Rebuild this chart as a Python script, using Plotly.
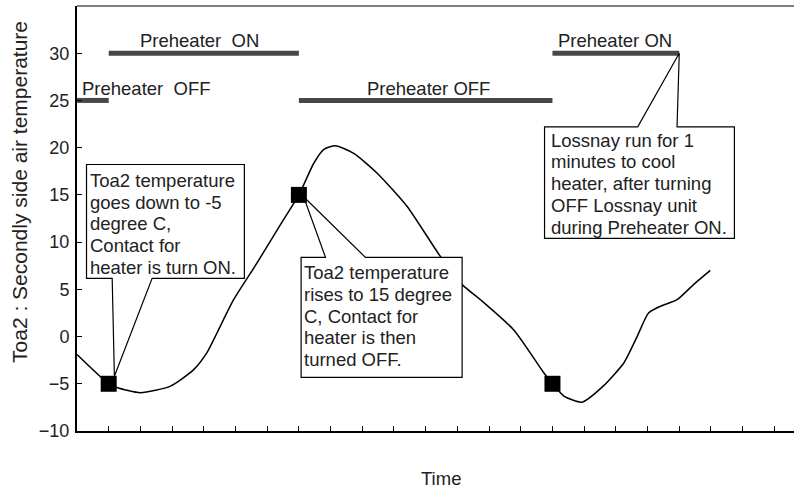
import plotly.graph_objects as go

# Secondary-side air temperature (Toa2) over time
time = [0, 1, 1.26, 2.0, 2.95, 3.68, 4.1, 4.42, 4.94, 5.68, 6.52, 7.0, 7.47, 7.78,
        8.15, 8.73, 9.47, 10.41, 11.46, 12.15, 12.73, 13.78, 14.72, 15.0, 15.36,
        15.93, 16.6, 17.25, 17.67, 18.03, 18.4, 18.93, 19.45, 19.98]
toa2 = [-1.9, -5.0, -5.4, -5.95, -5.25, -3.5, -1.7, 0.4, 3.9, 7.8, 12.4, 15.0, 18.35,
        19.8, 20.2, 19.4, 17.3, 13.8, 8.5, 5.5, 3.9, 0.7, -3.8, -5.0, -6.3, -6.95,
        -5.25, -2.8, 0.0, 2.5, 3.2, 3.9, 5.5, 7.0]

# Switching points of the heater contact
switch_time = [1, 7, 15]
switch_temp = [-5, 15, -5]

# Preheater state bars (level 30 = ON, level 25 = OFF)
state_start = [0, 1, 7, 15]
state_end = [1, 7, 15, 19]
state_level = [25, 30, 25, 30]
state_label = ["Preheater  OFF", "Preheater  ON", "Preheater OFF", "Preheater ON"]

y_ticks = [-10, -5, 0, 5, 10, 15, 20, 25, 30]
x_ticks = list(range(1, 23))

note_on = ["Toa2 temperature", "goes down to -5", "degree C,", "Contact for",
           "heater is turn ON."]
note_off = ["Toa2 temperature", "rises to 15 degree", "C, Contact for",
            "heater is then", "turned OFF."]
note_cool = ["Lossnay run for 1", "minutes to cool", "heater, after turning",
             "OFF Lossnay unit", "during Preheater ON."]

FONT = "Liberation Sans, Arial, Helvetica, sans-serif"
TXT = "#222222"
TEXT_SIZE = 18.5
LINE_STEP = 2.30  # text line spacing in temperature units

fig = go.Figure()

# state bars
bx, by = [], []
for s, e, lv in zip(state_start, state_end, state_level):
    bx += [s, e, None]
    by += [lv, lv, None]
fig.add_trace(go.Scatter(x=bx, y=by, mode="lines",
                         line=dict(color="#474747", width=5), hoverinfo="skip"))

# temperature curve
fig.add_trace(go.Scatter(x=time, y=toa2, mode="lines",
                         line=dict(color="black", width=1.5, shape="spline", smoothing=0.6),
                         hoverinfo="skip"))

# contact switching markers
fig.add_trace(go.Scatter(x=switch_time, y=switch_temp, mode="markers",
                         marker=dict(symbol="square", size=16, color="black",
                                     line=dict(width=0)),
                         hoverinfo="skip"))

# state labels above the bars
label_pos = [(2.18, 26.3), (3.86, 31.4), (11.1, 26.3), (16.98, 31.4)]
for (lx, ly), txt in zip(label_pos, state_label):
    fig.add_annotation(x=lx, y=ly, xref="x", yref="y", text=txt, showarrow=False,
                       xanchor="center", yanchor="middle",
                       font=dict(family=FONT, size=TEXT_SIZE, color=TXT))


def callout(left, right, top, bottom, base1, base2, apex, side, lines, tx, ty):
    """White box with a wedge pointer from its top or bottom edge to apex."""
    fig.add_shape(type="rect", xref="x", yref="y", x0=left, x1=right, y0=bottom, y1=top,
                  fillcolor="white", line=dict(width=0), layer="above")
    ax, ay = apex
    if side == "bottom":
        path = (f"M {base1},{bottom} L {left},{bottom} L {left},{top} L {right},{top} "
                f"L {right},{bottom} L {base2},{bottom} L {ax},{ay} Z")
    else:
        path = (f"M {base1},{top} L {left},{top} L {left},{bottom} L {right},{bottom} "
                f"L {right},{top} L {base2},{top} L {ax},{ay} Z")
    fig.add_shape(type="path", xref="x", yref="y", path=path,
                  line=dict(color="black", width=1.2), fillcolor="rgba(0,0,0,0)",
                  layer="above")
    for i, line in enumerate(lines):
        fig.add_annotation(x=tx, y=ty - i * LINE_STEP, xref="x", yref="y", text=line,
                           showarrow=False, xanchor="left", yanchor="middle",
                           font=dict(family=FONT, size=TEXT_SIZE, color=TXT))


callout(0.30, 5.28, 18.22, 6.16, 1.11, 2.37,
        (switch_time[0] + 0.18, switch_temp[0] + 0.8), "bottom", note_on, 0.35, 16.53)

callout(7.07, 12.15, 8.38, -4.32, 7.84, 9.10,
        (switch_time[1] + 0.15, switch_temp[1] - 0.2), "top", note_off, 7.11, 6.75)

callout(14.75, 20.74, 22.2, 10.39, 17.69, 18.93,
        (state_end[3], state_level[3]), "top", note_cool, 14.89, 20.80)

# top frame line
fig.add_shape(type="line", xref="paper", yref="paper", x0=0, x1=1, y0=1, y1=1,
              line=dict(color="#555555", width=1.5))

# axis titles
fig.add_annotation(x=-0.0795, y=0.5624, xref="paper", yref="paper",
                   text="Toa2 : Secondly side air temperature", textangle=-90,
                   showarrow=False, xanchor="center", yanchor="middle",
                   font=dict(family=FONT, size=21, color=TXT))
fig.add_annotation(x=0.507, y=-0.111, xref="paper", yref="paper", text="Time",
                   showarrow=False, xanchor="center", yanchor="middle",
                   font=dict(family=FONT, size=18.5, color=TXT))

fig.update_xaxes(range=[0, 22.62], tickmode="array", tickvals=x_ticks,
                 showticklabels=False, ticks="inside", ticklen=5, tickwidth=1,
                 tickcolor="black", showline=True, linecolor="black", linewidth=2,
                 showgrid=False, zeroline=False)
fig.update_yaxes(range=[-10, 35], tickmode="array", tickvals=y_ticks,
                 ticks="inside", ticklen=5, tickwidth=1, tickcolor="black",
                 showline=True, linecolor="black", linewidth=2,
                 showgrid=False, zeroline=False, ticklabelstandoff=2,
                 tickfont=dict(family=FONT, size=18, color=TXT))

fig.update_layout(width=794, height=488, margin=dict(l=77, r=0, t=6, b=57),
                  paper_bgcolor="white", plot_bgcolor="white", showlegend=False)

fig.write_html("out.html")
